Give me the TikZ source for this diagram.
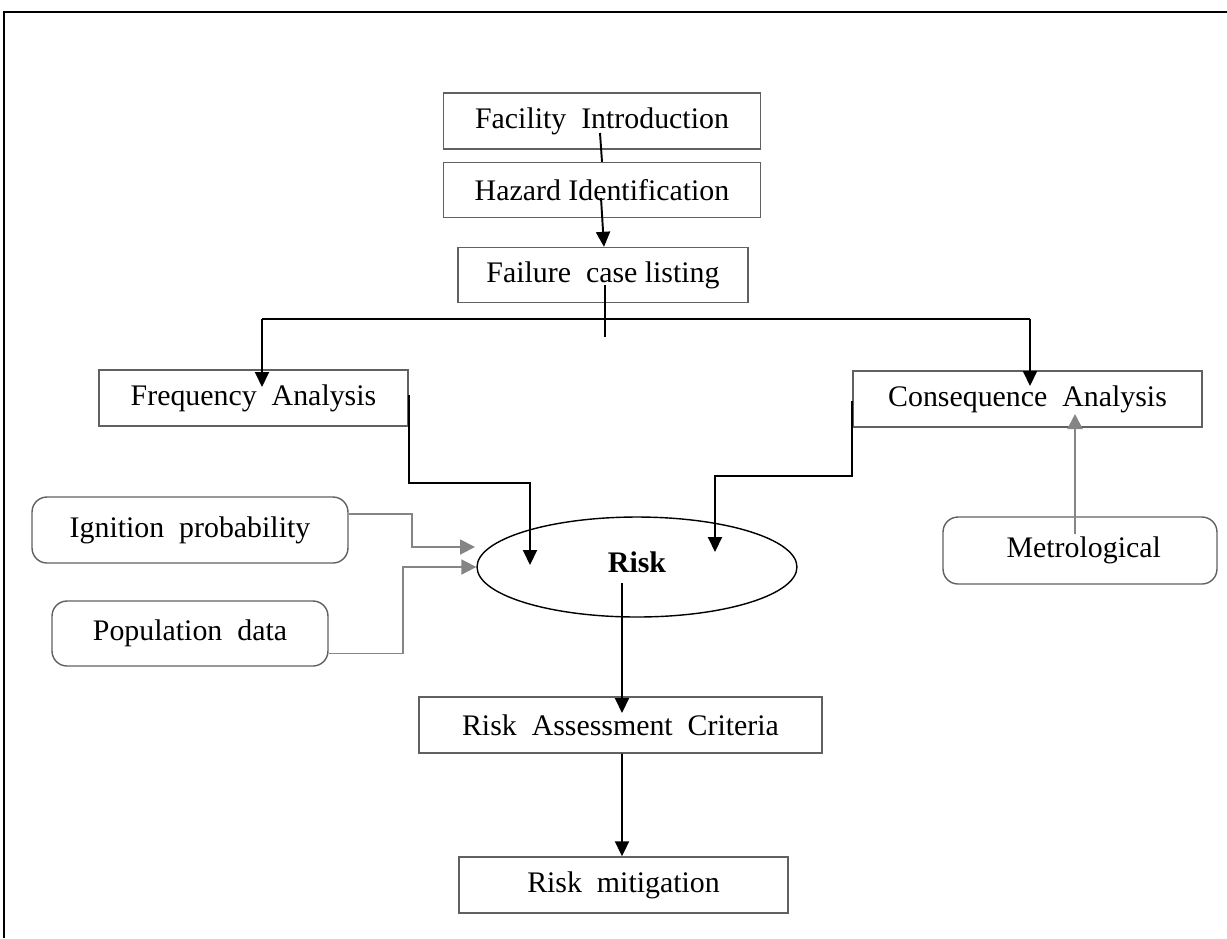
\documentclass[tikz,border=0pt]{standalone}
\usepackage{fontspec}
\setmainfont{Liberation Serif}
\usetikzlibrary{arrows.meta,shapes.geometric}
\begin{document}
\begin{tikzpicture}[x=0.02cm,y=-0.02cm,
  every node/.style={font=\fontsize{17}{20}\selectfont, inner sep=0pt},
  box/.style={draw=black!62, line width=0.8pt, rectangle},
  rbox/.style={draw=black!62, line width=0.8pt, rectangle, rounded corners=0.3cm},
  conn/.style={draw=black, line width=1.1pt},
  arr/.style={conn, -{Triangle[width=0.28cm,length=0.3cm]}},
  garr/.style={draw=black!48, line width=1.1pt, -{Triangle[width=0.3cm,length=0.3cm]}}
]
\useasboundingbox (0,0) rectangle (1227,938);
\draw[line width=1.1pt] (4,938) -- (4,12) -- (1227,12);

\node[box, minimum width=6.34cm, minimum height=1.12cm] (fac) at (602,121) {Facility\ \ Introduction};
\node[box, minimum width=6.34cm, minimum height=1.10cm] (haz) at (602,190) {Hazard Identification};
\node[box, minimum width=5.8cm, minimum height=1.10cm] (fail) at (603,275) {Failure\ \ case listing};
\node[box, minimum width=6.18cm, minimum height=1.12cm] (freq) at (253.5,398) {Frequency\ \ Analysis};
\node[box, minimum width=6.98cm, minimum height=1.12cm] (cons) at (1027.5,399) {Consequence\ \ Analysis};
\node[rbox, minimum width=6.32cm, minimum height=1.32cm] (ign) at (190,530) {Ignition\ \ probability};
\node[rbox, minimum width=5.52cm, minimum height=1.30cm] (pop) at (190,633.5) {Population\ \ data};
\node[rbox, minimum width=5.48cm, minimum height=1.34cm] (met) at (1080,550.5) {\hspace*{0.15cm}Metrological};
\node[draw=black, line width=0.8pt, ellipse, minimum width=6.4cm, minimum height=2.0cm] (risk) at (637,567) {};
\node[font=\fontsize{17}{20}\selectfont\bfseries] (risklbl) at (637,562) {Risk};
\node[box, minimum width=8.06cm, minimum height=1.12cm] (rac) at (620.5,725) {Risk\ \ Assessment\ \ Criteria};
\node[box, minimum width=6.58cm, minimum height=1.12cm] (mit) at (623.5,885) {Risk\ \ mitigation};

% top chain
\draw[conn] ([shift={(-2,12)}]fac.center) -- (haz.north);
\draw[arr] ([shift={(-1,8)}]haz.center) -- ([shift={(1,0)}]fail.north);
\coordinate (jn) at (605,319);
\coordinate (jl) at (262,319);
\coordinate (jr) at (1030,319);
\draw[conn] ([shift={(2,10)}]fail.center) -- ([shift={(2,62)}]fail.center);
\draw[conn] (jl) -- (jr);
\draw[arr] (jl) -- ([shift={(8.5,-11)}]freq.center);
\draw[arr] (jr) -- ([shift={(2.5,-13)}]cons.center);

% to risk
\draw[arr] ([yshift=0.06cm]freq.east) |- (530,483) -- ([shift={(-107,-2)}]risk.center);
\draw[arr] ([yshift=-0.04cm]cons.west) |- (715,476) -- ([shift={(78,-15)}]risk.center);
\draw[garr] ([yshift=0.32cm]ign.east) -| (412,547) -- ([shift={(-162,-20)}]risk.center);
\draw[garr] ([yshift=-0.4cm]pop.east) -| (403,567) -- (risk.west);
\draw[garr] ([shift={(-5,-16.5)}]met.center) -- ([shift={(47.5,15)}]cons.center);

% bottom chain
\draw[arr] ([shift={(-15,16)}]risk.center) -- ([shift={(1.5,-12)}]rac.center);
\draw[arr] ([shift={(1.5,0)}]rac.south) -- ([shift={(-1.5,0)}]mit.north);
\end{tikzpicture}
\end{document}
